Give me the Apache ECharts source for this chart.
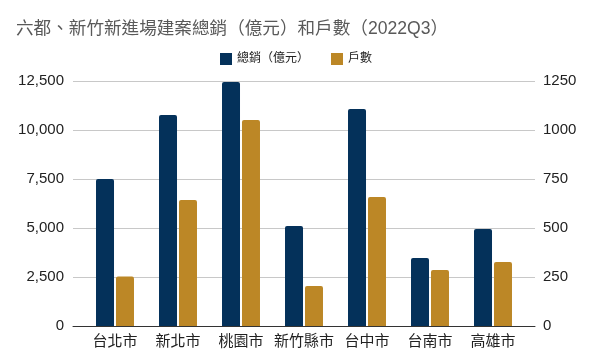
<!DOCTYPE html>
<html>
<head>
<meta charset="utf-8">
<script src="https://cdn.jsdelivr.net/npm/echarts@6/dist/echarts.min.js"></script>
<style>html,body{margin:0;padding:0;background:#fff;}#c{width:592px;height:360px;}</style>
</head>
<body>
<div id="c"></div>
<script>
var titleText = '六都、新竹新進場建案總銷（億元）和戶數（2022Q3）';
var categories = ['台北市', '新北市', '桃園市', '新竹縣市', '台中市', '台南市', '高雄市'];
var seriesNames = ['總銷（億元）', '戶數'];
var totalSales = [7500, 10770, 12450, 5100, 11070, 3470, 4950];
var households = [252, 643, 1051, 204, 658, 286, 327];
var leftTicks = [0, 2500, 5000, 7500, 10000, 12500];
var rightTicks = [0, 250, 500, 750, 1000, 1250];

var font = 'Arial, "Liberation Sans", "Noto Sans CJK TC", sans-serif';
var chart = echarts.init(document.getElementById('c'), null, {renderer: 'canvas'});
chart.setOption({
  animation: false,
  textStyle: {fontFamily: font},
  title: {
    text: titleText, left: 11, top: 15,
    textStyle: {fontSize: 17.6, fontWeight: 'normal', color: '#595959', fontFamily: font}
  },
  legend: {
    data: seriesNames.map(function (n) { return {name: n, icon: 'rect'}; }),
    left: 'center', top: 48,
    itemWidth: 12, itemHeight: 12, itemGap: 22,
    textStyle: {fontSize: 12, color: '#222', fontFamily: font}
  },
  grid: [
    {left: 73, right: 57, top: 81, bottom: 34},
    {left: 83.5, width: 441, top: 81, bottom: 34}
  ],
  xAxis: [
    {gridIndex: 0, type: 'category', data: [''], axisLabel: {show: false}, axisTick: {show: false},
     axisLine: {show: true, lineStyle: {color: '#333', width: 1}}},
    {gridIndex: 1, type: 'category', data: categories, axisTick: {show: false},
     axisLine: {show: false},
     axisLabel: {fontSize: 15, color: '#222', margin: 8, interval: 0, fontFamily: font}}
  ],
  yAxis: [
    {gridIndex: 0, type: 'value', min: leftTicks[0], max: leftTicks[leftTicks.length - 1], interval: leftTicks[1] - leftTicks[0],
     axisLine: {show: false}, axisTick: {show: false},
     axisLabel: {fontSize: 15, color: '#222', margin: 9, fontFamily: font,
       formatter: function (v) { return v.toString().replace(/\B(?=(\d{3})+(?!\d))/g, ','); }},
     splitLine: {lineStyle: {color: '#c8c8c8', width: 1}}},
    {gridIndex: 0, type: 'value', position: 'right', min: rightTicks[0], max: rightTicks[rightTicks.length - 1], interval: rightTicks[1] - rightTicks[0],
     axisLine: {show: false}, axisTick: {show: false},
     axisLabel: {fontSize: 15, color: '#222', margin: 8, fontFamily: font, formatter: function (v) { return String(v); }},
     splitLine: {show: false}},
    {gridIndex: 1, type: 'value', show: false, min: leftTicks[0], max: leftTicks[leftTicks.length - 1]},
    {gridIndex: 1, type: 'value', show: false, min: rightTicks[0], max: rightTicks[rightTicks.length - 1]}
  ],
  series: [
    {name: seriesNames[0], type: 'bar', xAxisIndex: 1, yAxisIndex: 2, data: totalSales,
     barWidth: 18, barGap: '11%', itemStyle: {color: '#04315a', borderRadius: [2, 2, 0, 0]}},
    {name: seriesNames[1], type: 'bar', xAxisIndex: 1, yAxisIndex: 3, data: households,
     barWidth: 18, barGap: '11%', itemStyle: {color: '#bc8726', borderRadius: [2, 2, 0, 0]}}
  ]
});
</script>
</body>
</html>
